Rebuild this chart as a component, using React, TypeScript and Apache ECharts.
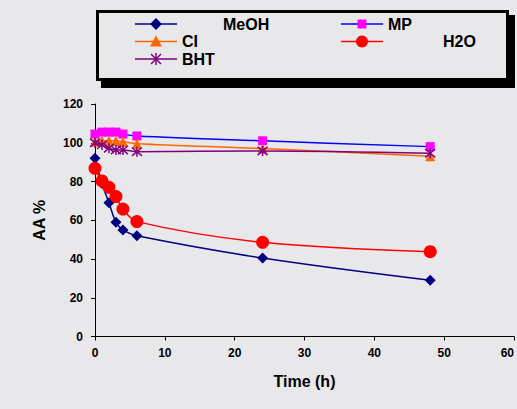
import React, { useEffect, useRef } from "react";
import * as echarts from "echarts";

const hours = [0, 1, 2, 3, 4, 6, 24, 48];
const meoh = [92, 79, 69, 59, 55, 52, 40.5, 29];
const mp = [104.5, 105.5, 105.5, 105.5, 104.5, 103.5, 101, 98];
const ci = [100.5, 101, 101, 101, 100.5, 99.5, 97, 93];
const h2o = [86.8, 80.3, 77, 72.2, 65.8, 59.3, 48.6, 43.8];
const bht = [100, 98.9, 97.2, 96.3, 96.3, 95.4, 95.8, 94.6];
const xTicks = { min: 0, max: 60, interval: 10 };
const yTicks = { min: 0, max: 120, interval: 20 };

const BG = "#e8e8ea";
const FONT = "Liberation Sans, Arial, sans-serif";
const ASTERISK = "path://M0,0L10,10M10,0L0,10M5,-1L5,11";

const pairs = (vals: number[]) => hours.map((h, i) => [h, vals[i]]);

export default function App() {
  const ref = useRef<HTMLDivElement>(null);
  useEffect(() => {
    if (!ref.current) return;
    const chart = echarts.init(ref.current, null, { renderer: "svg" });
    const lineItem = (name: string, data: number[], lineColor: string, markColor: string, symbol: string, size: number, extra: any = {}) => ({
      name,
      type: "line",
      data: pairs(data),
      smooth: 0.35,
      symbol,
      symbolSize: size,
      lineStyle: { color: lineColor, width: 1.5 },
      itemStyle: { color: markColor, ...(extra.itemStyle || {}) },
      z: extra.z || 2,
    });
    const Z = 20;
    const legendText = (text: string, x: number, y: number) => ({
      type: "text",
      z: Z,
      x,
      y,
      style: { text, font: `bold 16px ${FONT}`, fill: "#000", verticalAlign: "middle" },
    });
    const legendLine = (x1: number, y: number, color: string) => ({
      type: "line",
      z: Z,
      shape: { x1, y1: y, x2: x1 + 42, y2: y },
      style: { stroke: color, lineWidth: 1.5 },
    });
    const seg = (x1: number, y1: number, x2: number, y2: number, color: string) => ({
      type: "line",
      z: Z + 1,
      shape: { x1, y1, x2, y2 },
      style: { stroke: color, lineWidth: 1.5 },
    });
    const rows = [24, 41.5, 59];
    const cx1 = 156;
    const cx2 = 362;
    chart.setOption({
      animation: false,
      backgroundColor: BG,
      grid: { left: 95, right: 3, top: 104, bottom: 72.5, outerBoundsMode: "none", containLabel: false },
      xAxis: {
        type: "value",
        ...xTicks,
        name: "Time (h)",
        nameLocation: "middle",
        nameGap: 37,
        nameTextStyle: { fontFamily: FONT, fontWeight: "bold", fontSize: 16, color: "#000" },
        axisLine: { show: true, lineStyle: { color: "#000", width: 1 } },
        axisTick: { show: true, length: 4, lineStyle: { color: "#000" } },
        axisLabel: { fontFamily: FONT, fontWeight: "bold", fontSize: 12, color: "#000", margin: 10, alignMaxLabel: "right" },
        splitLine: { show: false },
      },
      yAxis: {
        type: "value",
        ...yTicks,
        name: "AA %",
        nameLocation: "middle",
        nameGap: 48,
        nameTextStyle: { fontFamily: FONT, fontWeight: "bold", fontSize: 16, color: "#000" },
        axisLine: { show: true, lineStyle: { color: "#000", width: 1 } },
        axisTick: { show: true, length: 4, lineStyle: { color: "#000" } },
        axisLabel: { fontFamily: FONT, fontWeight: "bold", fontSize: 12, color: "#000", margin: 12 },
        splitLine: { show: false },
      },
      series: [
        lineItem("MeOH", meoh, "#000080", "#000080", "diamond", 11),
        lineItem("MP", mp, "#0000ff", "#ff00ff", "rect", 9),
        lineItem("CI", ci, "#ff6600", "#ff6600", "triangle", 10),
        lineItem("H2O", h2o, "#ff0000", "#ff0000", "circle", 13, { z: 3 }),
        lineItem("BHT", bht, "#800080", "#800080", ASTERISK, 10, {
          itemStyle: { borderColor: "#800080", borderWidth: 1.5 },
          z: 4,
        }),
      ],
      graphic: [
        { type: "rect", z: 10, shape: { x: 101, y: 15, width: 414, height: 73 }, style: { fill: "#000" } },
        { type: "rect", z: 11, shape: { x: 97.5, y: 11.5, width: 410, height: 68 }, style: { fill: BG, stroke: "#000", lineWidth: 3 } },
        legendLine(135, rows[0], "#000080"),
        { type: "polygon", z: Z + 1, shape: { points: [[cx1, rows[0] - 6], [cx1 + 6, rows[0]], [cx1, rows[0] + 6], [cx1 - 6, rows[0]]] }, style: { fill: "#000080" } },
        legendText("MeOH", 223, rows[0]),
        legendLine(341, rows[0], "#0000ff"),
        { type: "rect", z: Z + 1, shape: { x: cx2 - 4.5, y: rows[0] - 4.5, width: 9, height: 9 }, style: { fill: "#ff00ff" } },
        legendText("MP", 388, rows[0]),
        legendLine(135, rows[1], "#ff6600"),
        { type: "polygon", z: Z + 1, shape: { points: [[cx1, rows[1] - 6], [cx1 + 6, rows[1] + 5], [cx1 - 6, rows[1] + 5]] }, style: { fill: "#ff6600" } },
        legendText("CI", 182, rows[1]),
        legendLine(341, rows[1], "#ff0000"),
        { type: "circle", z: Z + 1, shape: { cx: cx2, cy: rows[1], r: 6 }, style: { fill: "#ff0000" } },
        legendText("H2O", 443, rows[1]),
        legendLine(135, rows[2], "#800080"),
        seg(cx1 - 5, rows[2] - 5, cx1 + 5, rows[2] + 5, "#800080"),
        seg(cx1 + 5, rows[2] - 5, cx1 - 5, rows[2] + 5, "#800080"),
        seg(cx1, rows[2] - 6, cx1, rows[2] + 6, "#800080"),
        legendText("BHT", 182, rows[2]),
      ],
    });
    return () => chart.dispose();
  }, []);
  return <div ref={ref} style={{ position: "fixed", left: 0, top: 0, width: 517, height: 409 }} />;
}
